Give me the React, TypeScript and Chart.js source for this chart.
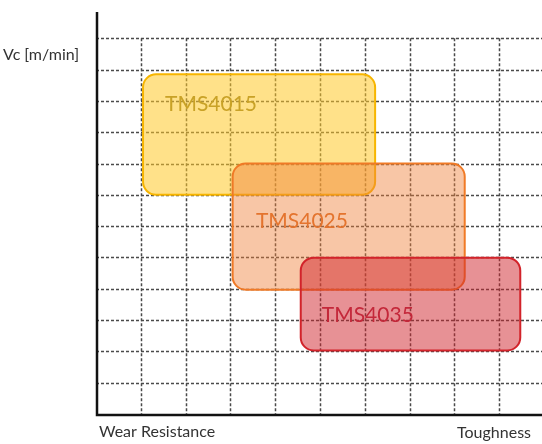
import React, { useEffect, useRef } from "react";
import { Chart, registerables } from "chart.js";

Chart.register(...registerables);

// Grade windows: toughness (x) and cutting speed (y) ranges, in grid units
const grades = ["TMS4015", "TMS4025", "TMS4035"];
const xFrom = [1.05, 3.05, 4.57];
const xTo = [6.23, 8.23, 9.47];
const yFrom = [7.0, 3.97, 2.03];
const yTo = [10.85, 8.0, 4.99];

// Label anchors (left edge, vertical middle) in grid units
const labelX = [1.54, 3.57, 5.04];
const labelY = [9.9, 6.15, 3.16];

// Grid lines
const xTicks = [1, 2, 3, 4, 5, 6, 7, 8, 9];
const yTicks = [1, 2, 3, 4, 5, 6, 7, 8, 9, 10, 11, 12];

const yAxisTitle = "Vc [m/min]";
const xAxisLeftTitle = "Wear Resistance";
const xAxisRightTitle = "Toughness";

const fills = ["rgba(255, 200, 40, 0.55)", "rgba(240, 128, 58, 0.45)", "rgba(208, 36, 44, 0.5)"];
const borders = ["#F7B500", "#F07A26", "#D2232A"];
const textColors = ["#C9A227", "#E4742E", "#C4283A"];

const gradePlugin = {
  id: "gradeMap",
  beforeDatasetsDraw(chart: any) {
    const { ctx, chartArea, scales } = chart;
    const xs = scales.x;
    const ys = scales.y;
    ctx.save();

    // dashed grid
    ctx.strokeStyle = "#4a4a4a";
    ctx.lineWidth = 1.5;
    ctx.setLineDash([3, 2]);
    const gridTop = ys.getPixelForValue(12);
    for (const v of xTicks) {
      const px = Math.round(xs.getPixelForValue(v)) + 0.5;
      ctx.beginPath();
      ctx.moveTo(px, gridTop);
      ctx.lineTo(px, chartArea.bottom);
      ctx.stroke();
    }
    for (const v of yTicks) {
      const py = Math.round(ys.getPixelForValue(v)) + 0.5;
      ctx.beginPath();
      ctx.moveTo(chartArea.left, py);
      ctx.lineTo(chartArea.right, py);
      ctx.stroke();
    }
    ctx.setLineDash([]);

    // grade boxes
    grades.forEach((name, i) => {
      const x0 = xs.getPixelForValue(xFrom[i]);
      const x1 = xs.getPixelForValue(xTo[i]);
      const y0 = ys.getPixelForValue(yTo[i]);
      const y1 = ys.getPixelForValue(yFrom[i]);
      ctx.beginPath();
      ctx.roundRect(x0, y0, x1 - x0, y1 - y0, 13);
      ctx.fillStyle = fills[i];
      ctx.fill();
      ctx.lineWidth = 2;
      ctx.strokeStyle = borders[i];
      ctx.stroke();
    });

    grades.forEach((name, i) => {
      ctx.font = "21px Lato, 'Open Sans', sans-serif";
      ctx.fillStyle = textColors[i];
      ctx.textAlign = "left";
      ctx.textBaseline = "middle";
      ctx.fillText(name, xs.getPixelForValue(labelX[i]), ys.getPixelForValue(labelY[i]));
    });

    // axes
    ctx.strokeStyle = "#111";
    ctx.lineWidth = 2.5;
    ctx.beginPath();
    ctx.moveTo(chartArea.left + 1, chartArea.top);
    ctx.lineTo(chartArea.left + 1, chartArea.bottom + 1);
    ctx.lineTo(chartArea.right, chartArea.bottom + 1);
    ctx.stroke();

    // axis titles
    ctx.fillStyle = "#333";
    ctx.font = "16px Lato, 'Open Sans', sans-serif";
    ctx.textBaseline = "middle";
    ctx.textAlign = "left";
    ctx.fillText(yAxisTitle, 3, 55);
    ctx.fillText(xAxisLeftTitle, chartArea.left + 3, chartArea.bottom + 18);
    ctx.textAlign = "right";
    ctx.fillText(xAxisRightTitle, chartArea.right - 11, chartArea.bottom + 19);
    ctx.restore();
  },
};

export default function App() {
  const canvasRef = useRef<HTMLCanvasElement | null>(null);

  useEffect(() => {
    document.body.style.margin = "0";
    const canvas = canvasRef.current;
    if (!canvas) return;
    const chart = new Chart(canvas, {
      type: "scatter",
      data: { datasets: [{ data: [] }] },
      options: {
        responsive: false,
        animation: false,
        events: [],
        layout: { padding: { left: 96, top: 12, right: 0, bottom: 30 } },
        plugins: { legend: { display: false }, tooltip: { enabled: false } },
        scales: {
          x: { type: "linear", min: 0, max: 9.955, display: false },
          y: { type: "linear", min: 0, max: 12.84, display: false },
        },
      },
      plugins: [gradePlugin],
    });
    return () => chart.destroy();
  }, []);

  return (
    <div style={{ width: 542, height: 444, background: "#fff" }}>
      <canvas ref={canvasRef} width={542} height={444} />
    </div>
  );
}
